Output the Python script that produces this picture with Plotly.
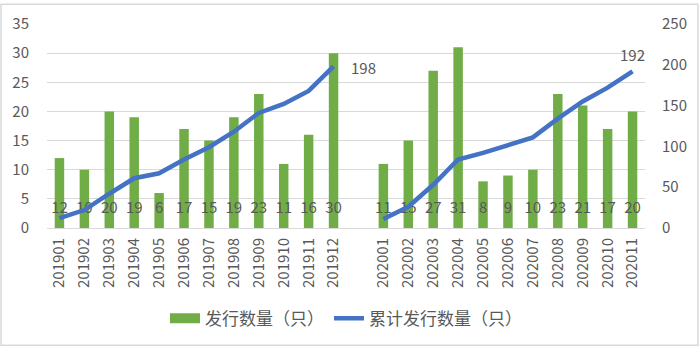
import plotly.graph_objects as go

months_2019 = ["201901","201902","201903","201904","201905","201906","201907","201908","201909","201910","201911","201912"]
months_2020 = ["202001","202002","202003","202004","202005","202006","202007","202008","202009","202010","202011"]
issued_2019 = [12,10,20,19,6,17,15,19,23,11,16,30]
issued_2020 = [11,15,27,31,8,9,10,23,21,17,20]
cumulative_2019 = [12,22,42,61,67,84,99,118,141,152,168,198]
cumulative_2020 = [11,26,53,84,92,101,111,134,155,172,192]

gap = " "
categories = months_2019 + [gap] + months_2020
issued = issued_2019 + [None] + issued_2020
cumulative = cumulative_2019 + [None] + cumulative_2020

FONT = "Noto Sans CJK SC"
TXT = "#595959"
GREEN = "#70AD47"
BLUE = "#4472C4"
LABEL_Y = 3.2

fig = go.Figure()
fig.add_trace(go.Bar(
    x=categories, y=issued, name="发行数量（只）",
    marker=dict(color=GREEN, line=dict(width=0)),
    width=0.38, yaxis="y", legendgroup="issued", showlegend=False,
))
# legend swatch for bars (wide rectangle like the original)
fig.add_trace(go.Scatter(
    x=[None], y=[None], name="发行数量（只）", mode="lines",
    line=dict(color=GREEN, width=10), legendgroup="issued",
    showlegend=True, hoverinfo="skip",
))
# bar value labels (inside base)
fig.add_trace(go.Scatter(
    x=categories, y=[LABEL_Y if v is not None else None for v in issued],
    mode="text", text=[str(v) if v is not None else "" for v in issued],
    textfont=dict(family=FONT, size=15, color=TXT),
    showlegend=False, hoverinfo="skip", yaxis="y", legendgroup="issued",
))
fig.add_trace(go.Scatter(
    x=categories, y=cumulative, name="累计发行数量（只）",
    mode="lines",
    line=dict(color=BLUE, width=4.5), yaxis="y2", connectgaps=False,
))

i198 = len(months_2019) - 1
i192 = len(categories) - 1
fig.add_annotation(x=i198, y=cumulative[i198], xref="x", yref="y2",
                   text=str(cumulative[i198]), showarrow=False,
                   xanchor="left", yanchor="middle", xshift=15, yshift=-1,
                   font=dict(family=FONT, size=15, color=TXT))
fig.add_annotation(x=i192, y=cumulative[i192], xref="x", yref="y2",
                   text=str(cumulative[i192]), showarrow=False,
                   xanchor="center", yanchor="middle", xshift=0, yshift=17,
                   font=dict(family=FONT, size=15, color=TXT))

fig.update_layout(
    width=700, height=350,
    margin=dict(l=47, r=55, t=21, b=122),
    paper_bgcolor="white", plot_bgcolor="white",
    font=dict(family=FONT, size=15, color=TXT),
    bargap=0.6,
    xaxis=dict(
        type="category", categoryorder="array", categoryarray=categories,
        tickangle=-90, showgrid=False, showline=True, linecolor="#D9D9D9",
        linewidth=1, ticks="", tickfont=dict(family=FONT, size=15, color=TXT),
        range=[-0.5, len(categories) - 0.5], ticklabelstandoff=3,
    ),
    yaxis=dict(
        range=[0, 35], dtick=5, showgrid=True, gridcolor="#D9D9D9", gridwidth=1,
        zeroline=False, showline=False, ticks="",
        tickfont=dict(family=FONT, size=15, color=TXT), ticklabelstandoff=17,
    ),
    yaxis2=dict(
        range=[0, 250], dtick=50, overlaying="y", side="right",
        showgrid=False, zeroline=False, showline=False, ticks="",
        tickfont=dict(family=FONT, size=15, color=TXT), ticklabelstandoff=16,
    ),
    legend=dict(
        orientation="h", x=0.5, xanchor="center", y=-0.445, yanchor="middle",
        font=dict(family=FONT, size=17, color=TXT), itemwidth=30,
        traceorder="normal",
    ),
    showlegend=True,
)

# chart border
fig.add_shape(type="rect", xref="paper", yref="paper",
              x0=(1 - 47) / 598, x1=(698 - 47) / 598,
              y0=(228 - 347) / 207, y1=(228 - 1) / 207,
              line=dict(color="#D9D9D9", width=1.5), layer="below")

fig.write_html("out.html")
